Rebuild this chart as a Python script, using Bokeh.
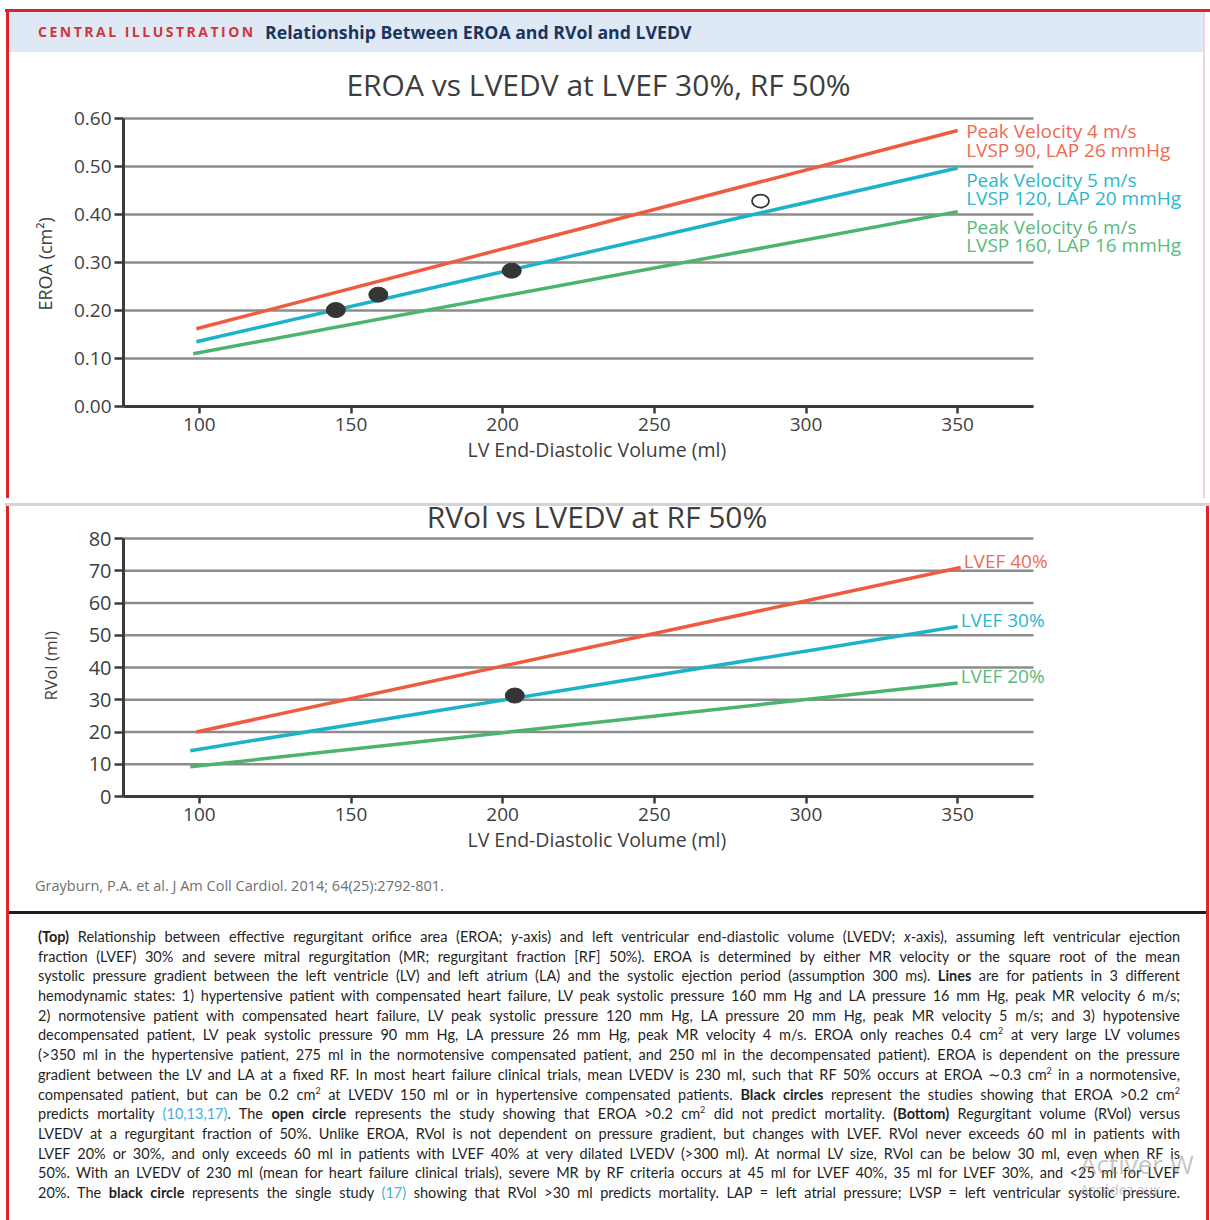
from bokeh.plotting import figure
from bokeh.models import Range1d, FixedTicker, PrintfTickFormatter, Label, Div, Title
from bokeh.layouts import row, column
from bokeh.embed import file_html
from bokeh.resources import INLINE

# ---------------- data: EROA vs LVEDV at LVEF 30%, RF 50% ----------------
eroa_names = ["Peak Velocity 4 m/s", "Peak Velocity 5 m/s", "Peak Velocity 6 m/s"]
eroa_pressures = ["LVSP 90, LAP 26 mmHg", "LVSP 120, LAP 20 mmHg", "LVSP 160, LAP 16 mmHg"]
eroa_lvedv_v4 = [99, 350]
eroa_v4 = [0.162, 0.575]
eroa_lvedv_v5 = [99, 350]
eroa_v5 = [0.135, 0.497]
eroa_lvedv_v6 = [98, 350]
eroa_v6 = [0.110, 0.406]
# studies where EROA > 0.2 predicted mortality (filled) / did not (open)
eroa_study_lvedv = [145, 159, 203]
eroa_study = [0.201, 0.233, 0.283]
eroa_open_lvedv = [285]
eroa_open = [0.428]

# ---------------- data: RVol vs LVEDV at RF 50% ----------------
rvol_names = ["LVEF 40%", "LVEF 30%", "LVEF 20%"]
rvol_lvedv_40 = [99, 351]
rvol_40 = [20.0, 71.0]
rvol_lvedv_30 = [97, 350]
rvol_30 = [14.2, 52.7]
rvol_lvedv_20 = [97, 350]
rvol_20 = [9.2, 35.2]
rvol_study_lvedv = [204]
rvol_study = [31.3]

x_ticks = [100, 150, 200, 250, 300, 350]
x_span = (75, 375)
eroa_ticks = [0.0, 0.1, 0.2, 0.3, 0.4, 0.5, 0.6]
rvol_ticks = [0, 10, 20, 30, 40, 50, 60, 70, 80]

RED, BLUE, GREEN = "#ef5b3f", "#1cb3c9", "#4cb46e"
RED_T, BLUE_T, GREEN_T = "#ee6a55", "#2db6cc", "#5aba7c"
FRAME_RED = "#d9262d"
FONT = "Open Sans"
INK = "#404040"
X_LABEL = "LV End-Diastolic Volume (ml)"

# pixel scales of the two plot frames (px per data unit on y)
EROA_PX = 480.0
RVOL_PX = 3.225
LIFT = 14  # bottom chart canvas tucked up under the separator, in px


def block(w, h, color="#ffffff"):
    return Div(text="", width=w, height=h, margin=0,
               styles={"background-color": color})


def style_axes(p, y_ticks, y_font, y_label, y_label_font, y_label_gap):
    p.outline_line_color = None
    p.xgrid.visible = False
    p.ygrid.visible = False
    # horizontal rules across the plotted LVEDV span only
    p.segment(x0=[x_span[0]] * len(y_ticks), x1=[x_span[1]] * len(y_ticks),
              y0=y_ticks, y1=y_ticks, line_color="#8c8c8c", line_width=2.5)
    for ax in p.axis:
        ax.axis_line_width = 3
        ax.axis_line_color = "#3b3b3b"
        ax.major_tick_line_color = "#3b3b3b"
        ax.major_tick_line_width = 2.5
        ax.major_tick_in = 0
        ax.minor_tick_in = 0
        ax.minor_tick_out = 0
        ax.major_label_text_color = INK
        ax.major_label_text_font = FONT
    p.xaxis.bounds = x_span
    p.xaxis.ticker = FixedTicker(ticks=x_ticks)
    p.xaxis.major_tick_out = 7
    p.xaxis.major_label_text_font_size = "19px"
    p.xaxis.major_label_standoff = 4
    p.yaxis.bounds = (y_ticks[0], y_ticks[-1])
    p.yaxis.ticker = FixedTicker(ticks=y_ticks)
    p.yaxis.major_tick_out = 9
    p.yaxis.major_label_text_font_size = y_font
    p.yaxis.major_label_standoff = 3
    # axis titles, placed along the bounded axis rules
    p.add_layout(Title(text=X_LABEL, align="left", offset=344, standoff=5,
                       vertical_align="top", text_font=FONT, text_font_size="19.5px",
                       text_font_style="normal", text_color=INK), "below")
    p.add_layout(Title(text=y_label, align="left", offset=96, standoff=y_label_gap,
                       vertical_align="middle", text_font=FONT, text_font_size=y_label_font,
                       text_font_style="normal", text_color=INK), "left")


def text_label(p, x, y, text, size, color, align="left", x_offset=0):
    p.add_layout(Label(x=x, y=y, x_offset=x_offset, text=text, text_font=FONT,
                       text_font_size=size, text_color=color, text_align=align,
                       text_baseline="alphabetic"))


# ---------------- header band ----------------
header = Div(width=1194, height=40, margin=0, text=(
    '<div style="position:relative;width:1194px;height:40px;background:#dfe9f5;'
    'font-family:\'Open Sans\';line-height:40px;white-space:nowrap;">'
    '<span style="position:absolute;left:29px;top:0;font-size:14px;font-weight:700;'
    'letter-spacing:2.5px;color:#d2343c;">CENTRAL ILLUSTRATION</span>'
    '<span style="position:absolute;left:256px;top:0;font-size:17.7px;font-weight:700;'
    'color:#1a3560;">Relationship Between EROA and RVol and LVEDV</span></div>'))

# ---------------- top chart ----------------
p1 = figure(width=1194, height=446, title=None,
            x_range=Range1d(75, 75 + 1080 * 300 / 910), y_range=Range1d(0, 354 / EROA_PX),
            output_backend="svg", toolbar_location=None,
            min_border_left=114, min_border_right=0,
            min_border_top=0, min_border_bottom=92,
            background_fill_color="white", border_fill_color="white")
style_axes(p1, eroa_ticks, "19px", "EROA (cm²)", "18px", 26)
p1.yaxis.formatter = PrintfTickFormatter(format="%.2f")

for xs, ys, c in [(eroa_lvedv_v4, eroa_v4, RED), (eroa_lvedv_v5, eroa_v5, BLUE),
                  (eroa_lvedv_v6, eroa_v6, GREEN)]:
    p1.line(xs, ys, line_color=c, line_width=3.5)

p1.ellipse(x=eroa_study_lvedv, y=eroa_study, width=19, height=15,
           width_units="screen", height_units="screen",
           fill_color="#353535", line_color="#353535")
p1.ellipse(x=eroa_open_lvedv, y=eroa_open, width=17, height=13,
           width_units="screen", height_units="screen",
           fill_color="white", line_color="#353535", line_width=1.8)

text_label(p1, 231.6, 0.671, "EROA vs LVEDV at LVEF 30%, RF 50%", "30px", "#3d3d3d",
           align="center")

eroa_label_y = [(0.5746, 0.5336), (0.4726, 0.4346), (0.3746, 0.3356)]
for name, pres, (ya, yb), c in zip(eroa_names, eroa_pressures, eroa_label_y,
                                   [RED_T, BLUE_T, GREEN_T]):
    text_label(p1, 352.8, ya, name, "19px", c)
    text_label(p1, 352.8, yb, pres, "19px", c)

# ---------------- bottom chart ----------------
# transparent canvas, pulled up under the separator so the title has head room
p2 = figure(width=1197, height=364 + LIFT, title=None, margin=(-LIFT, 0, 0, 0),
            x_range=Range1d(75, 75 + 1083 * 300 / 910),
            y_range=Range1d(0, (290 + LIFT) / RVOL_PX),
            output_backend="svg", toolbar_location=None,
            min_border_left=114, min_border_right=0,
            min_border_top=0, min_border_bottom=74,
            background_fill_color=None, border_fill_color=None)
style_axes(p2, rvol_ticks, "20px", "RVol (ml)", "17px", 45)

for name, xs, ys, c, tc in [(rvol_names[0], rvol_lvedv_40, rvol_40, RED, RED_T),
                            (rvol_names[1], rvol_lvedv_30, rvol_30, BLUE, BLUE_T),
                            (rvol_names[2], rvol_lvedv_20, rvol_20, GREEN, GREEN_T)]:
    p2.line(xs, ys, line_color=c, line_width=3.5)
    # name sits just right of the line end, raised 7 px
    text_label(p2, xs[-1], ys[-1] + 7 / RVOL_PX, name, "19px", tc, x_offset=3)

p2.ellipse(x=rvol_study_lvedv, y=rvol_study, width=19, height=15,
           width_units="screen", height_units="screen",
           fill_color="#353535", line_color="#353535")

text_label(p2, 231.1, 86.7, "RVol vs LVEDV at RF 50%", "30px", "#3d3d3d", align="center")

citation = Div(width=1197, height=41, margin=0, text=(
    '<div style="width:1197px;height:41px;background:white;font-family:\'Open Sans\';'
    'font-size:14.5px;color:#707070;line-height:32px;padding-left:26px;box-sizing:border-box;'
    'white-space:nowrap;">Grayburn, P.A. et al. J Am Coll Cardiol. 2014; 64(25):2792-801.</div>'))

# ---------------- caption ----------------
B = '<b>{}</b>'
L = '<span style="color:#46aee0;">{}</span>'
SUP = '<sup style="font-size:9px;line-height:0;vertical-align:6px;">2</sup>'
caption_lines = [
    B.format("(Top)") + " Relationship between effective regurgitant orifice area (EROA; <i>y</i>-axis) and left ventricular end-diastolic volume (LVEDV; <i>x</i>-axis), assuming left ventricular ejection",
    "fraction (LVEF) 30% and severe mitral regurgitation (MR; regurgitant fraction [RF] 50%). EROA is determined by either MR velocity or the square root of the mean",
    "systolic pressure gradient between the left ventricle (LV) and left atrium (LA) and the systolic ejection period (assumption 300 ms). " + B.format("Lines") + " are for patients in 3 different",
    "hemodynamic states: 1) hypertensive patient with compensated heart failure, LV peak systolic pressure 160 mm Hg and LA pressure 16 mm Hg, peak MR velocity 6 m/s;",
    "2) normotensive patient with compensated heart failure, LV peak systolic pressure 120 mm Hg, LA pressure 20 mm Hg, peak MR velocity 5 m/s; and 3) hypotensive",
    "decompensated patient, LV peak systolic pressure 90 mm Hg, LA pressure 26 mm Hg, peak MR velocity 4 m/s. EROA only reaches 0.4 cm" + SUP + " at very large LV volumes",
    "(&gt;350 ml in the hypertensive patient, 275 ml in the normotensive compensated patient, and 250 ml in the decompensated patient). EROA is dependent on the pressure",
    "gradient between the LV and LA at a fixed RF. In most heart failure clinical trials, mean LVEDV is 230 ml, such that RF 50% occurs at EROA &sim;0.3 cm" + SUP + " in a normotensive,",
    "compensated patient, but can be 0.2 cm" + SUP + " at LVEDV 150 ml or in hypertensive compensated patients. " + B.format("Black circles") + " represent the studies showing that EROA &gt;0.2 cm" + SUP,
    "predicts mortality " + L.format("(10,13,17)") + ". The " + B.format("open circle") + " represents the study showing that EROA &gt;0.2 cm" + SUP + " did not predict mortality. " + B.format("(Bottom)") + " Regurgitant volume (RVol) versus",
    "LVEDV at a regurgitant fraction of 50%. Unlike EROA, RVol is not dependent on pressure gradient, but changes with LVEF. RVol never exceeds 60 ml in patients with",
    "LVEF 20% or 30%, and only exceeds 60 ml in patients with LVEF 40% at very dilated LVEDV (&gt;300 ml). At normal LV size, RVol can be below 30 ml, even when RF is",
    "50%. With an LVEDV of 230 ml (mean for heart failure clinical trials), severe MR by RF criteria occurs at 45 ml for LVEF 40%, 35 ml for LVEF 30%, and &lt;25 ml for LVEF",
    "20%. The " + B.format("black circle") + " represents the single study " + L.format("(17)") + " showing that RVol &gt;30 ml predicts mortality. LAP = left atrial pressure; LVSP = left ventricular systolic pressure.",
]
line_html = "".join(
    '<div style="height:19.7px;line-height:19.7px;text-align:justify;'
    'text-align-last:justify;white-space:nowrap;">' + t + '</div>'
    for t in caption_lines)
caption = Div(width=1197, height=306, margin=0, text=(
    '<div style="position:relative;width:1197px;height:306px;overflow:hidden;background:white;'
    'font-family:Lato;font-size:14.5px;color:#1f1f1f;">'
    '<div style="position:absolute;left:29px;top:13px;width:1142px;">' + line_html + '</div>'
    '<div style="position:absolute;left:1071px;top:232px;font-family:\'Open Sans\';'
    'font-size:26px;color:rgba(140,140,140,0.5);white-space:nowrap;">Activer W</div>'
    '<div style="position:absolute;left:1071px;top:266px;font-family:\'Open Sans\';'
    'font-size:14px;color:rgba(140,140,140,0.5);white-space:nowrap;">Accédez aux</div>'
    '</div>'))

# ---------------- page assembly ----------------
top_section = column(
    block(1210, 9),
    row(block(5, 3), block(1205, 3, FRAME_RED)),
    row(block(6, 486), block(3, 486, FRAME_RED), column(header, p1),
        block(2, 486, "#f4d3d3"), block(5, 486)),
)
separator = column(block(1210, 5), row(block(5, 3), block(1205, 3, "#d4d4d4")))
bottom_section = row(
    block(6, 714), block(3, 714, FRAME_RED),
    column(p2, citation, block(1197, 3, "#1e1e1e"), caption),
    block(3, 714, FRAME_RED), block(1, 714),
)
page = column(top_section, separator, bottom_section)

open("out.html", "w").write(file_html(page, INLINE))
